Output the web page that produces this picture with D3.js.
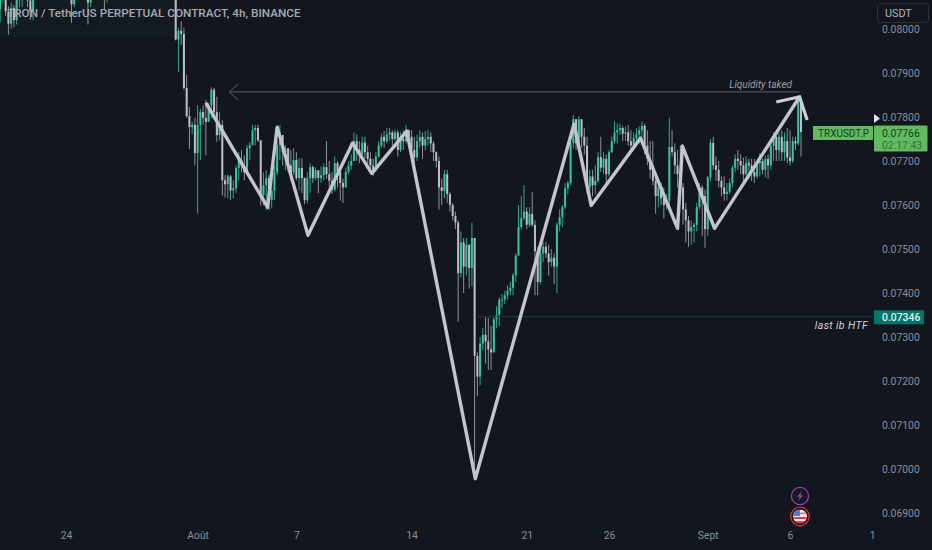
<!DOCTYPE html>
<html lang="fr">
<head>
<meta charset="UTF-8">
<title>TRXUSDT.P 4h</title>
<script src="https://d3js.org/d3.v7.min.js"></script>
<style>
  html, body { margin: 0; padding: 0; background: #12161f; }
  svg { display: block; font-family: Roboto, sans-serif; }
  .axis text { fill: #8a8d96; font-size: 10.4px; font-family: Roboto, sans-serif; }
  .axis path, .axis line { display: none; }
</style>
</head>
<body>
<svg id="chart" width="932" height="550"></svg>
<script>
// prices are in units of 0.00001 USDT
const firstOpen = 8045;
const closes = [
  8080,8085,8040,8012,8048,8020,8070,8085,8095,8090,
  8065,8040,8080,8092,8100,8096,8104,8110,8102,8098,
  8106,8112,8104,8098,8102,8108,8056,8096,8104,8110,
  8102,8098,8060,8095,8104,8112,8106,8100,8068,8098,
  8106,8114,8108,8102,8110,8116,8108,8100,8106,8112,
  8118,8110,8104,8112,8120,8114,8106,8112,8118,8124,
  8116,8110,8118,8124,
  7976,7996,7989,7866,7802,7777,7782,7718,7782,7811,
  7798,7789,7827,7862,7811,7759,7782,7656,7647,7665,
  7633,7638,7684,7702,7690,7674,7729,7736,7770,7775,
  7747,7622,7645,7661,7611,7633,7674,7736,7759,7720,
  7729,7690,7674,7702,7661,7684,7661,7611,7661,7686,
  7661,7679,7661,7668,7686,7670,7655,7635,7695,7675,
  7650,7640,7675,7690,7700,7745,7725,7715,7742,7720,
  7705,7690,7680,7710,7735,7755,7745,7760,7765,7750,
  7765,7725,7750,7745,7770,7755,7725,7708,7745,7755,
  7735,7750,7755,7740,7720,7700,7640,7632,7670,7625,
  7600,7575,7560,7445,7515,7460,7510,7457,7525,7257,
  7210,7285,7305,7290,7272,7265,7340,7350,7385,7385,
  7395,7405,7412,7440,7485,7550,7570,7585,7555,7580,
  7555,7495,7425,7490,7505,7490,7470,7480,7460,7555,
  7572,7595,7638,7650,7741,7795,7740,7795,7755,7735,
  7640,7665,7645,7655,7709,7685,7705,7670,7720,7745,
  7765,7770,7775,7762,7765,7745,7735,7752,7760,7770,
  7780,7735,7705,7680,7655,7620,7640,7615,7600,7610,
  7732,7720,7690,7670,7640,7590,7565,7540,7550,7555,
  7595,7640,7620,7545,7663,7741,7690,7680,7655,7640,
  7625,7630,7650,7685,7705,7700,7690,7670,7695,7690,
  7675,7665,7695,7700,7680,7705,7690,7735,7755,7725,
  7755,7720,7745,7708,7700,7745,7740,7839,7766
];
const highs = [
  8095,8100,8090,8052,8060,8055,8080,8098,8108,8104,
  8096,8072,8092,8106,8112,8110,8116,8122,8116,8112,
  8118,8124,8118,8112,8114,8120,8112,8108,8116,8122,
  8116,8110,8104,8106,8116,8124,8120,8114,8104,8110,
  8118,8126,8122,8116,8122,8128,8122,8114,8118,8124,
  8130,8124,8116,8124,8132,8128,8120,8124,8130,8136,
  8130,8122,8130,8136,
  8120,8003,8017,8003,7896,7823,7789,7798,7827,7818,
  7827,7839,7832,7868,7866,7846,7811,7793,7668,7670,
  7668,7656,7690,7720,7725,7713,7736,7743,7782,7782,
  7782,7747,7674,7679,7668,7679,7690,7747,7782,7759,
  7736,7725,7725,7729,7720,7706,7706,7663,7674,7695,
  7690,7686,7675,7688,7695,7745,7700,7675,7710,7700,
  7680,7660,7685,7700,7715,7765,7760,7745,7755,7755,
  7735,7720,7705,7720,7745,7762,7768,7775,7775,7770,
  7772,7770,7765,7770,7782,7772,7770,7755,7760,7770,
  7765,7768,7770,7765,7745,7722,7710,7660,7680,7680,
  7630,7605,7585,7565,7540,7525,7525,7505,7560,7525,
  7265,7300,7320,7345,7343,7325,7345,7370,7390,7398,
  7405,7418,7425,7445,7490,7600,7620,7645,7595,7595,
  7630,7565,7505,7500,7515,7515,7510,7500,7490,7560,
  7590,7600,7650,7655,7755,7805,7795,7802,7790,7775,
  7755,7680,7680,7690,7720,7755,7720,7715,7725,7755,
  7790,7785,7785,7780,7778,7782,7770,7765,7775,7778,
  7790,7785,7770,7745,7745,7675,7650,7650,7640,7625,
  7798,7770,7740,7725,7735,7650,7605,7575,7565,7560,
  7605,7650,7645,7635,7665,7750,7755,7710,7700,7665,
  7665,7650,7660,7690,7715,7725,7715,7708,7710,7705,
  7705,7705,7700,7718,7705,7712,7715,7740,7765,7758,
  7765,7770,7765,7775,7770,7755,7755,7850,7845
];
const lows = [
  8015,8060,8030,7987,8000,8004,8010,8050,8050,8070,
  8050,8021,8020,8078,8088,8084,8090,8098,8092,8086,
  8092,8100,8092,8086,8090,8094,8014,8050,8090,8098,
  8090,8086,8010,8050,8092,8100,8096,8088,8045,8060,
  8094,8102,8098,8090,8098,8104,8098,8090,8094,8100,
  8106,8100,8094,8100,8108,8104,8096,8100,8106,8112,
  8106,8100,8106,8112,
  7974,7903,7964,7862,7798,7727,7761,7690,7581,7702,
  7782,7713,7789,7798,7798,7743,7747,7622,7617,7615,
  7611,7615,7627,7656,7674,7656,7668,7702,7736,7736,
  7743,7599,7599,7588,7588,7592,7611,7668,7702,7690,
  7679,7674,7656,7668,7656,7633,7627,7602,7604,7627,
  7650,7656,7627,7650,7656,7660,7640,7625,7630,7640,
  7610,7605,7640,7670,7680,7700,7700,7695,7712,7705,
  7685,7670,7665,7675,7708,7730,7730,7740,7745,7735,
  7745,7710,7720,7725,7740,7735,7700,7695,7700,7730,
  7705,7725,7735,7720,7700,7685,7590,7600,7615,7605,
  7585,7565,7545,7335,7435,7400,7440,7410,7415,7005,
  7165,7190,7270,7240,7225,7225,7265,7320,7325,7365,
  7375,7385,7395,7395,7425,7485,7545,7565,7545,7550,
  7550,7395,7395,7420,7470,7480,7440,7460,7420,7400,
  7540,7550,7590,7625,7645,7730,7725,7735,7730,7715,
  7625,7625,7620,7625,7650,7675,7670,7640,7665,7718,
  7740,7740,7760,7745,7745,7735,7725,7730,7735,7740,
  7745,7715,7690,7660,7645,7580,7595,7600,7570,7590,
  7600,7710,7670,7640,7615,7555,7515,7505,7510,7515,
  7540,7590,7530,7503,7530,7655,7680,7655,7640,7620,
  7610,7610,7625,7640,7675,7680,7670,7655,7665,7660,
  7655,7650,7660,7665,7670,7663,7660,7680,7700,7700,
  7700,7700,7700,7695,7690,7695,7725,7735,7710
];
const priceTicks = [8000,7900,7800,7700,7600,7500,7400,7300,7200,7100,7000,6900];
const dateTicks = ["2023-07-24","2023-08-01","2023-08-07","2023-08-14","2023-08-21","2023-08-26","2023-09-01","2023-09-06","2023-09-11"];
const dateLabels = ["24","Août","7","14","21","26","Sept","6","1"];

// the hand drawn zigzag, as bar number and price
const zigBars   = [75.1,97.7,101,112.3,128.7,135.6,148.4,173.3,209.4,215.6,233.5,247,248.8,260.5,291.5];
const zigPrices = [7832,7595,7777,7531,7741,7672,7768,6978,7784,7599,7752,7547,7734,7547,7846];
const headBars   = [283.1,291.5,294.4];
const headPrices = [7834,7846,7793];

const liquidityPrice = 7857, liquidityFrom = 83.5, liquidityTo = 291.5;
const lastIbPrice = 7346, lastIbFrom = 173.3;
const lastPrice = 7766;

const svg = d3.select("#chart");
const parse = d3.utcParse("%Y-%m-%d");
const barTime = i => d3.utcHour.offset(parse("2023-07-20"), i * 4);

const x = d3.scaleUtc().domain([parse("2023-07-24"), parse("2023-09-06")]).range([66, 790]);
const y = d3.scaleLinear().domain([6900, 8000]).range([513, 29]);
const fmt = d => (d / 1e5).toFixed(5);

const bars = closes.map((c, i) => ({
  i, c, h: highs[i], l: lows[i], o: i ? closes[i - 1] : firstOpen
}));

// faint strip behind the title
svg.append("rect").attr("x", 0).attr("y", 0).attr("width", 176).attr("height", 37)
  .attr("fill", "#16262c").attr("opacity", 0.3);

const defs = svg.append("defs");
defs.append("clipPath").attr("id", "plot").append("rect")
  .attr("x", 0).attr("y", 0).attr("width", 873).attr("height", 525);
defs.append("filter").attr("id", "soft").append("feGaussianBlur").attr("stdDeviation", 0.45);

const plot = svg.append("g").attr("clip-path", "url(#plot)");
const candles = plot.append("g").attr("filter", "url(#soft)");
const upColor = "#38c4a3", downColor = "#bcbfc8";

candles.selectAll(".wick").data(bars).enter().append("line")
  .attr("class", "wick")
  .attr("x1", d => x(barTime(d.i))).attr("x2", d => x(barTime(d.i)))
  .attr("y1", d => y(d.h)).attr("y2", d => y(d.l))
  .attr("stroke", d => d.c >= d.o ? "#2fa58c" : "#8d9099").attr("stroke-width", 1);

candles.selectAll(".body").data(bars).enter().append("rect")
  .attr("class", "body")
  .attr("x", d => x(barTime(d.i)) - 1).attr("width", 2)
  .attr("y", d => y(Math.max(d.o, d.c)))
  .attr("height", d => Math.max(1, Math.abs(y(d.o) - y(d.c))))
  .attr("fill", d => d.c >= d.o ? upColor : downColor);

// liquidity line with open arrow
const liqY = y(liquidityPrice), liqX0 = x(barTime(liquidityFrom)), liqX1 = x(barTime(liquidityTo));
plot.append("line").attr("x1", liqX0).attr("x2", liqX1).attr("y1", liqY).attr("y2", liqY)
  .attr("stroke", "#5c5f69").attr("stroke-width", 1);
plot.append("path")
  .attr("d", d3.line()([[liqX0 + 9, liqY - 8], [liqX0, liqY], [liqX0 + 9, liqY + 8]]))
  .attr("fill", "none").attr("stroke", "#5c5f69").attr("stroke-width", 1);
plot.append("text").attr("x", 792).attr("y", liqY - 4).attr("text-anchor", "end")
  .attr("font-size", 10).attr("font-style", "italic").attr("fill", "#9a9da6").text("Liquidity taked");

// last ib line
plot.append("line")
  .attr("x1", x(barTime(lastIbFrom))).attr("x2", 873)
  .attr("y1", y(lastIbPrice)).attr("y2", y(lastIbPrice))
  .attr("stroke", "#17413f").attr("stroke-width", 1);
plot.append("text").attr("x", 868).attr("y", y(lastIbPrice) + 12).attr("text-anchor", "end")
  .attr("font-size", 10.5).attr("font-style", "italic").attr("letter-spacing", 0.4)
  .attr("fill", "#d1d4dc").text("last ib HTF");

// zigzag
const zigLine = d3.line().x(d => x(barTime(d[0]))).y(d => y(d[1]));
plot.append("path").attr("d", zigLine(d3.zip(zigBars, zigPrices)))
  .attr("fill", "none").attr("stroke", "#c3c5cc").attr("stroke-width", 3.4).attr("stroke-linejoin", "round");
plot.append("path").attr("d", zigLine(d3.zip(headBars, headPrices)))
  .attr("fill", "none").attr("stroke", "#cfd1d6").attr("stroke-width", 3.2);

// title
svg.append("text").attr("x", 7).attr("y", 17).attr("font-size", 11.75).attr("font-weight", 500)
  .attr("fill", "#a6a9b1").text("TRON / TetherUS PERPETUAL CONTRACT, 4h, BINANCE");

// axes
svg.append("g").attr("class", "axis").attr("transform", "translate(872,0)")
  .call(d3.axisRight(y).tickValues(priceTicks).tickFormat(fmt).tickSize(0).tickPadding(10));
svg.append("g").attr("class", "axis").attr("transform", "translate(0,527)")
  .call(d3.axisBottom(x).tickValues(dateTicks.map(parse))
    .tickFormat((d, i) => dateLabels[i]).tickSize(0).tickPadding(5));

// USDT button
svg.append("rect").attr("x", 877.5).attr("y", 3.5).attr("width", 51).attr("height", 19).attr("rx", 3)
  .attr("fill", "#12161f").attr("stroke", "#2a2e39");
svg.append("text").attr("x", 885).attr("y", 17).attr("font-size", 10.8).attr("fill", "#b2b5be").text("USDT");

// current price labels
const lastY = y(lastPrice);
svg.append("rect").attr("x", 813).attr("y", 126).attr("width", 60).attr("height", 14).attr("fill", "#62b95f");
svg.append("text").attr("x", 818).attr("y", 137).attr("font-size", 10).attr("fill", "#16401f").text("TRXUSDT.P");
svg.append("rect").attr("x", 874).attr("y", 125.5).attr("width", 53.5).attr("height", 26).attr("rx", 1).attr("fill", "#62b95f");
svg.append("text").attr("x", 882).attr("y", lastY + 5).attr("font-size", 10.4).attr("fill", "#16401f").text(fmt(lastPrice));
svg.append("text").attr("x", 882).attr("y", lastY + 17).attr("font-size", 10.4).attr("fill", "#2f7a34").text("02:17:43");
svg.append("path").attr("d", d3.line()([[874, 114], [880, 118.5], [874, 123]])).attr("fill", "#e6e7ea");

// last ib price label
svg.append("rect").attr("x", 874).attr("y", y(lastIbPrice) - 6.5).attr("width", 50).attr("height", 14).attr("fill", "#00766b");
svg.append("text").attr("x", 882).attr("y", y(lastIbPrice) + 4.5).attr("font-size", 10.4).attr("font-weight", 500)
  .attr("fill", "#e8f1ef").text(fmt(lastIbPrice));

// event icons
const bolt = svg.append("g").attr("transform", "translate(800,496)");
bolt.append("circle").attr("r", 8.6).attr("fill", "#171a24").attr("stroke", "#9c3fb0").attr("stroke-width", 1.2);
bolt.append("path").attr("d", "M1.8,-5 L-3,0.8 L-0.4,0.8 L-1.8,5 L3,-0.8 L0.4,-0.8 Z").attr("fill", "#8a3d9c");

const flag = svg.append("g").attr("transform", "translate(800,516.5)");
flag.append("circle").attr("r", 9.3).attr("fill", "#12161f").attr("stroke", "#d5333a").attr("stroke-width", 1.3);
flag.append("clipPath").attr("id", "flagClip").append("circle").attr("r", 7);
const flagG = flag.append("g").attr("clip-path", "url(#flagClip)");
flagG.append("rect").attr("x", -7).attr("y", -7).attr("width", 14).attr("height", 14).attr("fill", "#e9e9ee");
flagG.append("rect").attr("x", -7).attr("y", 0.5).attr("width", 14).attr("height", 2).attr("fill", "#d8424a");
flagG.append("rect").attr("x", -7).attr("y", 4.5).attr("width", 14).attr("height", 2).attr("fill", "#d8424a");
flagG.append("rect").attr("x", -7).attr("y", -4).attr("width", 14).attr("height", 1.6).attr("fill", "#d8808a");
flagG.append("rect").attr("x", -7).attr("y", -7).attr("width", 7).attr("height", 6.5).attr("fill", "#4a7fd0");
</script>
</body>
</html>
